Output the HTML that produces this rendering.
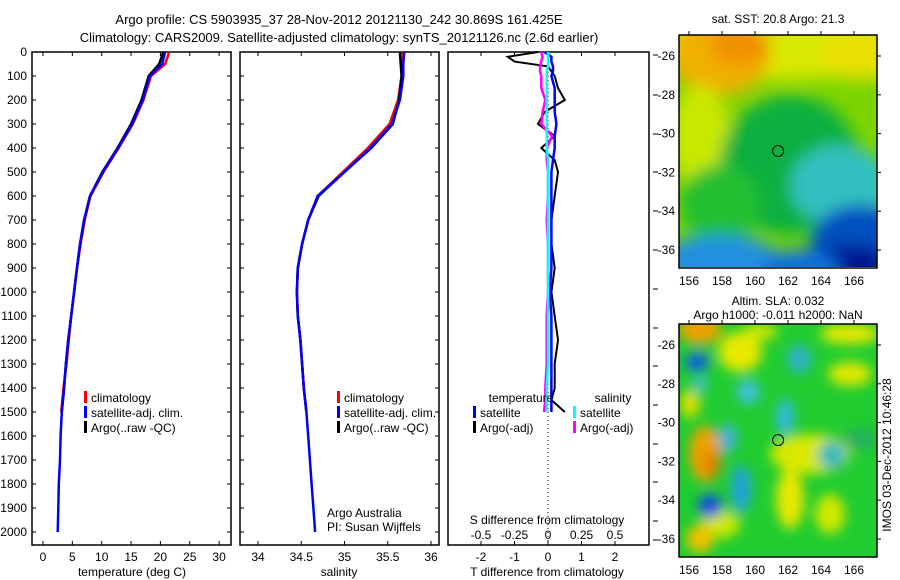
<!DOCTYPE html>
<html><head><meta charset="utf-8"><style>
body{margin:0;background:#fff;}
svg{display:block;font-family:"Liberation Sans",sans-serif;font-size:12px;}
</style></head><body>
<svg id="s" width="900" height="580" xmlns="http://www.w3.org/2000/svg">
<defs>
<filter id="bl" x="-50%" y="-50%" width="200%" height="200%"><feGaussianBlur stdDeviation="8"/></filter>
<filter id="bl2" x="-50%" y="-50%" width="200%" height="200%"><feGaussianBlur stdDeviation="6"/></filter>
<clipPath id="c1"><rect x="679" y="35" width="198" height="232"/></clipPath>
<clipPath id="c2"><rect x="679" y="324" width="198" height="233"/></clipPath>
</defs>
<text x="339" y="24" text-anchor="middle" font-size="13">Argo profile: CS 5903935_37 28-Nov-2012 20121130_242 30.869S 161.425E</text>
<text x="339" y="42" text-anchor="middle" font-size="13">Climatology: CARS2009. Satellite-adjusted climatology: synTS_20121126.nc (2.6d earlier)</text>
<g id="maps"></g>
<g id="plots"></g>
<text transform="translate(891,455) rotate(-90)" text-anchor="middle" font-size="12">IMOS 03-Dec-2012 10:46:28</text>
</svg>
<script>
const depths=[0,50,100,200,300,400,500,600,700,800,900,1000,1100,1200,1300,1400,1500,1600,1700,1800,1900,2000];
const tempSat=[20.8,20.3,18.2,17.0,15.2,12.8,10.2,8.0,7.0,6.3,5.8,5.3,4.8,4.3,3.9,3.6,3.2,3.0,2.9,2.7,2.6,2.5];
const tempClim=[21.5,20.8,18.4,17.1,15.3,12.9,10.3,8.1,7.1,6.4,5.8,5.3,4.8,4.4,4.0,3.5,3.1];
const tempArgo=[20.5,19.8,18.0,16.8,15.0,12.7,10.1,8.0,7.0,6.3,5.8,5.3,4.8,4.3,3.9,3.6,3.2];
const salSat=[35.69,35.68,35.68,35.64,35.55,35.3,35.0,34.69,34.58,34.51,34.46,34.45,34.46,34.49,34.51,34.53,34.56,34.58,34.6,34.62,34.64,34.66];
const salClim=[35.66,35.66,35.66,35.62,35.52,35.27,34.98,34.69,34.58,34.51,34.46,34.45,34.46,34.49,34.51,34.53,34.56];
const salArgo=[35.64,35.65,35.66,35.63,35.56,35.31,35.0,34.7,34.58,34.51,34.46,34.45,34.46,34.49,34.51,34.53,34.56];
const diffDepths=[0,20,40,60,80,100,150,200,250,300,350,400,450,500,600,700,800,900,1000,1100,1200,1300,1400,1450,1500];
const dTargo=[-0.3,-1.2,-1.0,0.0,0.1,0.2,0.3,0.5,-0.1,-0.3,0.2,-0.2,0.2,0.3,0.2,0.1,0.1,0.2,0.1,0.2,0.3,0.2,0.2,0.1,0.5];
const dTsat=[-0.1,0.1,0.1,0.15,0.15,0.1,0.2,0.2,0.2,0.25,0.2,0.2,0.15,0.1,0.1,0.1,0.1,0.1,0.05,0.1,0.1,0.1,0.1,0.1,0.1];
const dSargo=[-0.05,-0.04,-0.05,-0.06,-0.06,-0.05,-0.05,-0.02,-0.04,-0.05,0.03,-0.01,-0.01,0.0,0.0,-0.01,0.0,0.0,0.0,-0.01,-0.01,-0.01,-0.02,-0.02,-0.03];
const dSsat=[0.0,0.0,0.0,0.0,-0.01,-0.01,-0.01,-0.01,-0.01,-0.01,-0.01,-0.01,0.0,0.0,0.0,0.0,0.0,0.0,0.0,0.0,0.0,0.0,-0.01,-0.01,-0.01];
const depthTicks=[0,100,200,300,400,500,600,700,800,900,1000,1100,1200,1300,1400,1500,1600,1700,1800,1900,2000];
const tempTicks=[0,5,10,15,20,25,30];
const salTicks=[34,34.5,35,35.5,36];
const tdTicks=[-2,-1,0,1,2];
const sdTicks=[-0.5,-0.25,0,0.25,0.5];
const lonTicks=[156,158,160,162,164,166];
const latTicks=[-26,-28,-30,-32,-34,-36];

const NS="http://www.w3.org/2000/svg";
const plots=document.getElementById('plots');
function mk(t,a,p){const e=document.createElementNS(NS,t);for(const k in a)e.setAttribute(k,a[k]);(p||plots).appendChild(e);return e;}
const yD=d=>52+d*0.24;
const xT=v=>43+v*5.87;
const xS=v=>258+(v-34)*86.5;
const xTD=v=>548+v*33.5;
const xSD=v=>548+v*4*33.5;

function frame(x0,x1,name){
  const r=mk('rect',{x:x0,y:52,width:x1-x0,height:493,fill:'none',stroke:'#000','stroke-width':1.5});
  
  
}
frame(32,231,'temperature-panel');frame(240,439,'salinity-panel');frame(448,649,'difference-panel');
depthTicks.forEach(d=>{
  const y=yD(d);
  mk('line',{x1:32,x2:36,y1:y,y2:y,stroke:'#000'});mk('line',{x1:227,x2:231,y1:y,y2:y,stroke:'#000'});
  mk('line',{x1:240,x2:244,y1:y,y2:y,stroke:'#000'});mk('line',{x1:435,x2:439,y1:y,y2:y,stroke:'#000'});
  const t=mk('text',{x:27,y:y+4,'text-anchor':'end'});t.textContent=d;
  
  
});
[55,95,134,172,211,250,289,328,366,405,444,482,521,540].forEach(y=>{mk('line',{x1:653,x2:658,y1:y,y2:y,stroke:'#000'});});
function xticks(arr,f,y,pre){arr.forEach(v=>{const x=f(v);mk('line',{x1:x,x2:x,y1:545,y2:541,stroke:'#000'});mk('line',{x1:x,x2:x,y1:52,y2:56,stroke:'#000'});
  const t=mk('text',{x:x,y:y,'text-anchor':'middle'});t.textContent=pre?pre(v):v;
  
  });}
xticks(tempTicks,xT,561);xticks(salTicks,xS,561);
xticks(tdTicks,xTD,561,v=>v<0?'-'+Math.abs(v):v);
sdTicks.forEach(v=>{const t=mk('text',{x:xSD(v),y:539,'text-anchor':'middle'});t.textContent=v<0?'-'+Math.abs(v):v;
  
  });
function lab(x,y,s,n){const t=mk('text',{x:x,y:y,'text-anchor':'middle'});t.textContent=s;}
lab(132,576,'temperature (deg C)','temperature-axis-title');
lab(339,576,'salinity','salinity-axis-title');
lab(547,576,'T difference from climatology','t-diff-axis-title');
lab(547,524,'S difference from climatology','s-diff-axis-title');
const dot=mk('line',{x1:548,x2:548,y1:60,y2:545,stroke:'#000','stroke-dasharray':'1,3'});


function line(ds,vals,fx,col,name,w){
  const pts=vals.map((v,i)=>fx(v).toFixed(1)+','+yD(ds[i]).toFixed(1)).join(' ');
  const p=mk('polyline',{points:pts,fill:'none',stroke:col,'stroke-width':w||2.5});
  
}
line(depths,tempClim,xT,'#f00','temp-climatology-line');
line(depths,tempArgo,xT,'#000','temp-argo-line');
line(depths,tempSat,xT,'#00f','temp-satellite-line');
line(depths,salClim,xS,'#f00','sal-climatology-line');
line(depths,salArgo,xS,'#000','sal-argo-line');
line(depths,salSat,xS,'#00f','sal-satellite-line');
line(diffDepths,dTargo,xTD,'#000','t-diff-argo-line',2);
line(diffDepths,dTsat,xTD,'#00f','t-diff-satellite-line',2.5);
line(diffDepths,dSargo,xSD,'#f0f','s-diff-argo-line',2.5);
line(diffDepths,dSsat,xSD,'#0ff','s-diff-satellite-line',2.5);

function legend(x,y,items,name){items.forEach((it,i)=>{const yy=y+i*15;
  mk('rect',{x:x,y:yy-6,width:3,height:12,fill:it[1]});
  const t=mk('text',{x:x+7,y:yy+5});t.textContent=it[0];
  });}
legend(84,397,[['climatology','#f00'],['satellite-adj. clim.','#00f'],['Argo(..raw -QC)','#000']],'temp-legend');
legend(337,397,[['climatology','#f00'],['satellite-adj. clim.','#00f'],['Argo(..raw -QC)','#000']],'sal-legend');
legend(473,412,[['satellite','#00f'],['Argo(-adj)','#000']],'t-diff-legend');
legend(573,412,[['satellite','#0ff'],['Argo(-adj)','#f0f']],'s-diff-legend');
lab(521,402,'temperature','t-legend-title');lab(613,402,'salinity','s-legend-title');
const a1=mk('text',{x:327,y:517});a1.textContent='Argo Australia';
const a2=mk('text',{x:327,y:531});a2.textContent='PI: Susan Wijffels';

// maps
const maps=document.getElementById('maps');
const lonX=l=>689+(l-156)*16.5;
function mapFrame(top,clip,filt,blobs,base,title1,title2,name){
  const g=mk('g',{'clip-path':'url(#'+clip+')'},maps);
  mk('rect',{x:679,y:top,width:198,height:233,fill:base},g);
  const gb=mk('g',{filter:'url(#'+filt+')'},g);
  blobs.forEach(b=>mk('ellipse',{cx:b[0],cy:top+b[1],rx:b[2],ry:b[3],fill:b[4]},gb));
  const latY=l=>top+21+(-26-l)*19.4;
  mk('circle',{cx:lonX(161.4),cy:latY(-30.9),r:5.5,fill:'none',stroke:'#000'},maps);
  const r=mk('rect',{x:679,y:top,width:198,height:233,fill:'none',stroke:'#000','stroke-width':1.5},maps);
  
  lonTicks.forEach(l=>{const x=lonX(l);mk('line',{x1:x,x2:x,y1:top,y2:top-4,stroke:'#000'},maps);
    const t=mk('text',{x:x,y:top+250,'text-anchor':'middle'},maps);t.textContent=l;
    });
  latTicks.forEach(l=>{const y=latY(l);mk('line',{x1:877,x2:881,y1:y,y2:y,stroke:'#000'},maps);
    const t=mk('text',{x:675,y:y+4,'text-anchor':'end'},maps);t.textContent=l;
    });
  const t1=mk('text',{x:778,y:title2?top-19:top-12,'text-anchor':'middle'},maps);t1.textContent=title1;
  
  if(title2){const t2=mk('text',{x:778,y:top-5,'text-anchor':'middle'},maps);t2.textContent=title2;
    }
}
mapFrame(35,'c1','bl',[
 [780,10,130,35,'#d8e800'],[720,20,50,40,'#f0b000'],[740,10,30,20,'#f09000'],[700,100,30,50,'#c8e800'],
 [860,20,40,25,'#e8e000'],[790,130,70,70,'#10b040'],[720,170,40,40,'#20c030'],
 [840,150,50,40,'#30c0c0'],[860,210,50,40,'#0050c0'],[850,230,40,20,'#001890'],[720,225,60,25,'#2090e0'],[800,235,40,20,'#1070e0']
],'#7cd400','sat. SST: 20.8 Argo: 21.3','','sst-map');
mapFrame(324,'c2','bl2',[
 [700,6,22,14,'#f0a000'],[740,28,22,20,'#e8e800'],[760,8,18,8,'#d0e800'],[850,50,22,12,'#e0e800'],[850,10,30,10,'#e8e800'],
 [810,130,40,20,'#d8e800'],[790,175,14,30,'#e8e800'],[830,190,15,20,'#d0e800'],[720,200,20,14,'#d0e800'],
 [705,130,16,28,'#f0a000'],[712,140,8,14,'#e08000'],[700,215,14,14,'#f0c000'],[690,80,10,14,'#e0e000'],
 [697,38,12,10,'#1060e0'],[799,35,12,14,'#30b0d0'],[748,68,12,12,'#40c0e0'],[785,93,9,18,'#30b8e0'],
 [728,114,9,14,'#40b0e0'],[741,165,10,24,'#20a0e0'],[710,182,12,12,'#1050e0'],[832,131,14,14,'#30b8c0'],
 [700,60,8,8,'#40c0d0'],[860,115,18,10,'#20b060']
],'#20cc30','Altim. SLA: 0.032','Argo h1000: -0.011 h2000: NaN','sla-map');
</script>
</body></html>
